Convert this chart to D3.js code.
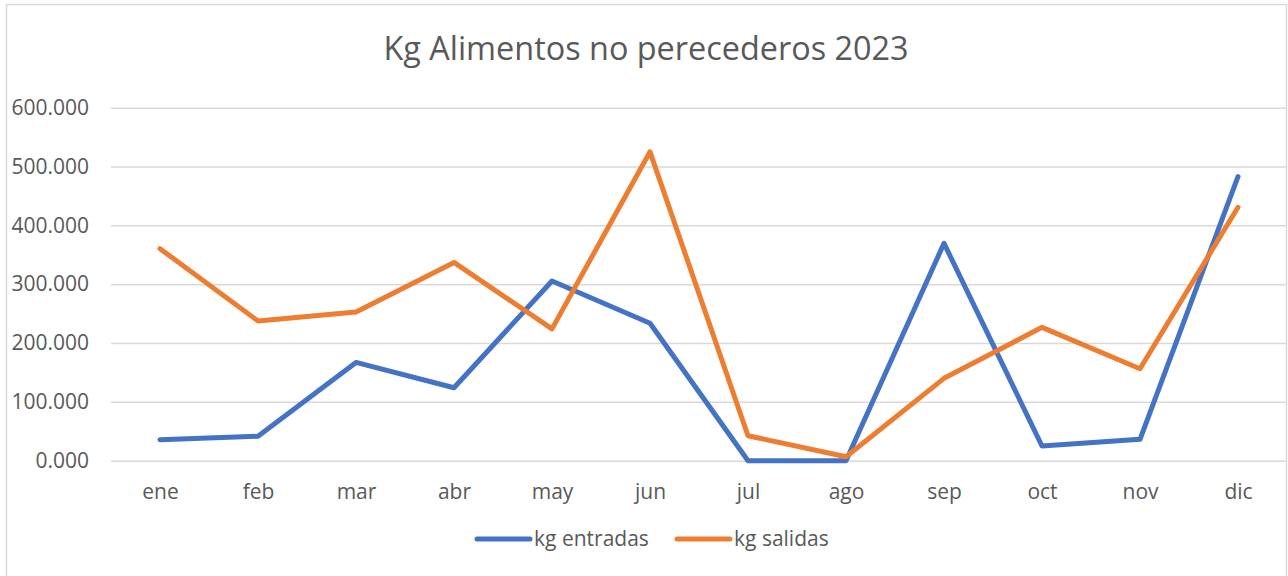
<!DOCTYPE html>
<html>
<head>
<meta charset="utf-8">
<script src="https://cdn.jsdelivr.net/npm/d3@7"></script>
<style>
  body { margin: 0; background: #fff; }
  text { font-family: "Open Sans", sans-serif; fill: #595959; }
</style>
</head>
<body>
<div id="chart"></div>
<script>
var months = ["ene", "feb", "mar", "abr", "may", "jun", "jul", "ago", "sep", "oct", "nov", "dic"];
var entradas = [35.7, 41.5, 167, 124, 305.5, 233.5, 0, 0, 369.5, 25, 36.4, 482.8];
var salidas = [360.4, 237.5, 252.8, 337, 224, 525, 42.5, 6.8, 140, 226.7, 156.4, 430.7];
var yTicks = [0, 100, 200, 300, 400, 500, 600];
var seriesNames = ["kg entradas", "kg salidas"];
var colors = ["#4472C4", "#ED7D31"];

var outerWidth = 1288,
    outerHeight = 576,
    plot = {left: 111, right: 1287, top: 107.7, bottom: 460.7};

var svg = d3.select("#chart")
    .append("svg")
        .attr("width", outerWidth)
        .attr("height", outerHeight);

// chart frame
svg.append("rect")
    .attr("x", 6.5).attr("y", 4.5)
    .attr("width", 1280).attr("height", 600)
    .attr("fill", "#fff")
    .attr("stroke", "#d9d9d9")
    .attr("stroke-width", 1.5);

var x = d3.scalePoint()
    .domain(months)
    .range([plot.left, plot.right])
    .padding(0.5);

var y = d3.scaleLinear()
    .domain([0, 600])
    .range([plot.bottom, plot.top]);

svg.append("text")
    .attr("x", 646)
    .attr("y", 60)
    .attr("text-anchor", "middle")
    .style("font-size", "32.4px")
    .text("Kg Alimentos no perecederos 2023");

// gridlines + y labels
var yAxis = d3.axisLeft(y)
    .tickValues(yTicks)
    .tickSize(-(plot.right - plot.left))
    .tickPadding(22)
    .tickFormat(function(d) { return d3.format(".3f")(d); });

var gy = svg.append("g")
    .attr("transform", "translate(" + plot.left + ",0)")
    .call(yAxis);
gy.select(".domain").remove();
gy.selectAll(".tick line").attr("stroke", "#d9d9d9").attr("stroke-width", 1.5);
gy.selectAll(".tick text")
    .style("font-size", "21px")
    .style("font-family", "Open Sans")
    .attr("fill", "#595959");

// x labels
var xAxis = d3.axisBottom(x).tickSize(0).tickPadding(23);
var gx = svg.append("g")
    .attr("transform", "translate(0," + plot.bottom + ")")
    .call(xAxis);
gx.select(".domain").remove();
gx.selectAll(".tick text")
    .style("font-size", "21px")
    .style("font-family", "Open Sans")
    .attr("fill", "#595959");

var line = d3.line()
    .x(function(d, i) { return x(months[i]); })
    .y(function(d) { return y(d); });

[entradas, salidas].forEach(function(s, i) {
    svg.append("path")
        .datum(s)
        .attr("d", line)
        .attr("fill", "none")
        .attr("stroke", colors[i])
        .attr("stroke-width", 5)
        .attr("stroke-linejoin", "round")
        .attr("stroke-linecap", "round");
});

// legend
var legendX = [477, 677];
seriesNames.forEach(function(name, i) {
    var g = svg.append("g").attr("transform", "translate(" + legendX[i] + ",539)");
    g.append("line")
        .attr("x1", 0).attr("x2", 53)
        .attr("stroke", colors[i])
        .attr("stroke-width", 5)
        .attr("stroke-linecap", "round");
    g.append("text")
        .attr("x", 57)
        .attr("dy", "0.35em")
        .style("font-size", "21px")
        .text(name);
});
</script>
</body>
</html>
